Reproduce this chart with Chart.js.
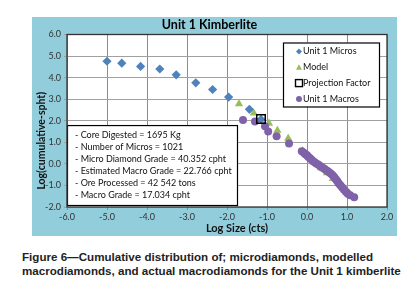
<!DOCTYPE html>
<html><head><meta charset="utf-8">
<script src="https://cdn.jsdelivr.net/npm/chart.js@4.4.1/dist/chart.umd.min.js"></script>
<style>
html,body{margin:0;padding:0;background:#fff;width:412px;height:294px;overflow:hidden}
#wrap{position:absolute;left:32px;top:17px;width:365px;height:219px}
#cap{position:absolute;left:22px;top:250px;font:bold 11.6px "Liberation Sans",Arial,sans-serif;line-height:14px;color:#222;white-space:nowrap}
</style></head><body>
<div id="wrap"><canvas id="c"></canvas></div>
<div id="cap">Figure 6—Cumulative distribution of; microdiamonds, modelled<br>macrodiamonds, and actual macrodiamonds for the Unit 1 kimberlite</div>
<script>
const microX = [-5.00,-4.63,-4.16,-3.68,-3.27,-2.78,-2.36,-1.96,-1.44,-1.15];
const microY = [4.76,4.67,4.52,4.40,4.13,3.76,3.45,3.10,2.53,2.06];
const modelX = [-1.70,-1.33,-0.95,-0.74,-0.47,-0.11,0.05,0.20,0.35,0.50,0.65,0.80,0.95,1.05];
const modelY = [2.78,2.35,1.88,1.55,1.18,0.60,0.35,0.08,-0.18,-0.42,-0.68,-0.92,-1.17,-1.35];
const projX = [-1.15];
const projY = [2.08];
const macroX = [-1.60,-1.30,-1.05,-0.97,-0.76,-0.45,-0.13,-0.08,-0.04,0.00,0.03,0.07,0.11,0.15,0.19,0.23,0.28,0.32,0.36,0.40,0.44,0.48,0.52,0.56,0.60,0.64,0.68,0.71,0.74,0.77,0.80,0.84,0.88,0.92,0.97,1.02,1.08,1.18];
const macroY = [2.04,1.96,1.74,1.50,1.28,0.94,0.58,0.52,0.45,0.40,0.33,0.27,0.20,0.12,0.07,0.02,-0.03,-0.09,-0.14,-0.19,-0.24,-0.29,-0.34,-0.40,-0.46,-0.53,-0.61,-0.69,-0.76,-0.84,-0.92,-1.00,-1.10,-1.19,-1.29,-1.38,-1.45,-1.55];
const seriesNames = ["Unit 1 Micros","Model","Projection Factor","Unit 1 Macros"];
const notes = ["- Core Digested = 1695 Kg","- Number of Micros = 1021","- Micro Diamond Grade = 40.352 cpht","- Estimated Macro Grade = 22.766 cpht","- Ore Processed = 42 542 tons","- Macro Grade = 17.034 cpht"];
const xTicks = [-6,-5,-4,-3,-2,-1,0,1,2];
const yTicks = [-2,-1,0,1,2,3,4,5,6];
const xTitle = 'Log Size (cts)';
const yTitle = 'Log(cumulative-spht)';

const pts = (xs, ys) => xs.map((x, i) => ({x, y: ys[i]}));
const FONT = "Lato, 'Open Sans', sans-serif";

const deco = {
  id: 'deco',
  beforeDraw(chart) {
    const {ctx, chartArea: a} = chart;
    ctx.save();
    ctx.fillStyle = '#92CDDC';
    ctx.fillRect(0, 0, chart.width, chart.height);
    ctx.fillStyle = '#fff';
    ctx.fillRect(a.left, a.top, a.right - a.left, a.bottom - a.top);
    ctx.restore();
  },
  afterDatasetsDraw(chart) {
    const {ctx, chartArea: a, scales} = chart;
    ctx.save();
    // annotation box
    const bx = a.left, by = scales.y.getPixelForValue(1.8);
    const bw = scales.x.getPixelForValue(-1.75) - bx, bh = a.bottom - 2 - by;
    ctx.fillStyle = '#fff';
    ctx.fillRect(bx, by, bw, bh);
    ctx.strokeStyle = '#000'; ctx.lineWidth = 1.2;
    ctx.strokeRect(bx + 0.5, by + 0.5, bw, bh);
    ctx.fillStyle = '#111';
    ctx.font = "9px " + FONT;
    ctx.textBaseline = 'middle';
    notes.forEach((t, i) => ctx.fillText(t, bx + 8, by + 10 + i * 12));
    // legend box
    const lw = 96, lh = 64;
    const lx = a.right - 8 - lw, ly = a.top + 8;
    ctx.fillStyle = '#fff';
    ctx.fillRect(lx, ly, lw, lh);
    ctx.strokeStyle = '#000'; ctx.lineWidth = 1.2;
    ctx.strokeRect(lx + 0.5, ly + 0.5, lw, lh);
    ctx.font = "9px " + FONT;
    chart.data.datasets.forEach((ds, i) => {
      const cy = ly + 9 + i * 15.8, cx = lx + 16;
      ctx.beginPath();
      ctx.fillStyle = ds.backgroundColor; ctx.strokeStyle = ds.borderColor; ctx.lineWidth = 1.4;
      if (ds.pointStyle === 'rectRot') { ctx.moveTo(cx, cy-3); ctx.lineTo(cx+3, cy); ctx.lineTo(cx, cy+3); ctx.lineTo(cx-3, cy); ctx.closePath(); ctx.fill(); }
      else if (ds.pointStyle === 'triangle') { ctx.moveTo(cx, cy-3); ctx.lineTo(cx+3, cy+2.5); ctx.lineTo(cx-3, cy+2.5); ctx.closePath(); ctx.fill(); }
      else if (ds.pointStyle === 'rect') { ctx.strokeRect(cx-3.5, cy-3.5, 7, 7); }
      else { ctx.arc(cx, cy, 3, 0, Math.PI*2); ctx.fill(); }
      ctx.fillStyle = '#111';
      ctx.fillText(ds.label, cx + 4, cy);
    });
    ctx.restore();
  },
  afterDraw(chart) {
    const {ctx, chartArea: a} = chart;
    ctx.save();
    ctx.strokeStyle = '#333'; ctx.lineWidth = 1.3;
    ctx.strokeRect(a.left, a.top, a.right - a.left, a.bottom - a.top);
    // axis titles
    ctx.fillStyle = '#111';
    ctx.textAlign = 'center'; ctx.textBaseline = 'middle';
    ctx.font = "bold 11px " + FONT;
    ctx.fillText(xTitle, (a.left + a.right) / 2 + 10, a.bottom + 21);
    ctx.translate(10, (a.top + a.bottom) / 2 + 20);
    ctx.rotate(-Math.PI / 2);
    ctx.font = "bold 10.5px " + FONT;
    ctx.fillText(yTitle, 0, 0);
    ctx.restore();
  }
};

new Chart(document.getElementById('c'), {
  type: 'scatter',
  data: {
    datasets: [
      {label: seriesNames[0], data: pts(microX, microY), pointStyle: 'rectRot', radius: 4.6, backgroundColor: '#4F81BD', borderColor: '#4F81BD', borderWidth: 0, order: 2},
      {label: seriesNames[1], data: pts(modelX, modelY), pointStyle: 'triangle', radius: 4.8, backgroundColor: '#9BBB59', borderColor: '#9BBB59', borderWidth: 0, order: 3},
      {label: seriesNames[2], data: pts(projX, projY), pointStyle: 'rect', radius: 6, backgroundColor: 'rgba(0,0,0,0)', borderColor: '#000', borderWidth: 1.5, order: 0},
      {label: seriesNames[3], data: pts(macroX, macroY), pointStyle: 'circle', radius: 4, backgroundColor: '#7F62A8', borderColor: '#7F62A8', borderWidth: 0, order: 1}
    ]
  },
  options: {
    responsive: true, maintainAspectRatio: false, animation: false,
    layout: {padding: {left: 0, right: 10, top: 0, bottom: 0}},
    plugins: {
      legend: {display: false}, tooltip: {enabled: false},
      title: {display: true, text: 'Unit 1 Kimberlite', color: '#000', font: {family: FONT, size: 12.5, weight: 'bold'}, padding: {top: 0, bottom: 2.5}}
    },
    scales: {
      x: {
        type: 'linear', min: -6, max: 2,
        afterFit(s) { s.height = 29; },
        afterBuildTicks(s) { s.ticks = xTicks.map(v => ({value: v})); },
        ticks: {color: '#333', font: {family: FONT, size: 9}, padding: 2, callback: v => v.toFixed(1)},
        grid: {color: '#8c8c8c', lineWidth: 1, tickLength: 3, drawTicks: true},
        border: {display: false},
        title: {display: false}
      },
      y: {
        type: 'linear', min: -2, max: 6,
        afterFit(s) { s.width = 35; },
        afterBuildTicks(s) { s.ticks = yTicks.map(v => ({value: v})); },
        ticks: {color: '#333', font: {family: FONT, size: 9}, padding: 3, callback: v => v.toFixed(1)},
        grid: {color: '#a0a0a0', lineWidth: 1, tickLength: 3},
        border: {display: false},
        title: {display: false}
      }
    }
  },
  plugins: [deco]
});
</script>
</body></html>
